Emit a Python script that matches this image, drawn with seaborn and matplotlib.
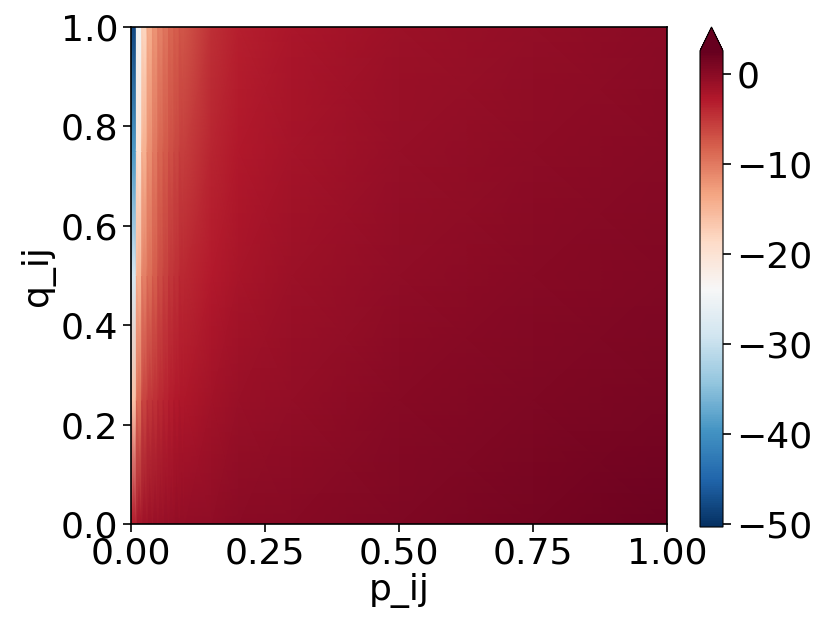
import numpy as np
import matplotlib
matplotlib.use("Agg")
import matplotlib.pyplot as plt
import seaborn as sns

# q levels (rows of the table)
q_levels = [0.0, 0.25, 0.5, 0.75, 1.0]

# narrow columns near p=0, each 0.01 wide (values for q = 0, .25, .5, .75, 1)
block_edges = [0.00, 0.01, 0.02, 0.03, 0.04, 0.05, 0.06, 0.07, 0.08, 0.09, 0.10]
block_vals = [
    [-3.0, -16.0, -28.5, -39.0, -48.0],
    [-1.8, -9.0, -14.5, -20.0, -25.0],
    [-1.4, -6.0, -10.5, -14.5, -18.0],
    [-1.2, -5.0, -9.0, -11.5, -14.0],
    [-1.1, -4.5, -7.8, -10.0, -12.0],
    [-1.0, -3.9, -6.5, -8.5, -10.5],
    [-0.9, -3.4, -5.8, -7.7, -9.5],
    [-0.8, -3.0, -5.0, -6.8, -8.5],
    [-0.7, -2.7, -4.5, -6.2, -7.8],
    [-0.6, -2.4, -4.0, -5.6, -7.2],
]

# smoother part of the field
p_smooth = [0.15, 0.2, 0.3, 0.5, 0.75, 1.0]
smooth_vals = [
    [-0.3, -1.6, -2.8, -3.7, -4.5],
    [0.0, -1.1, -2.0, -2.7, -3.3],
    [0.3, -0.6, -1.3, -1.8, -2.2],
    [0.9, 0.2, -0.4, -0.8, -1.2],
    [1.5, 0.8, 0.2, -0.2, -0.5],
    [2.0, 1.2, 0.6, 0.2, 0.0],
]

vmin, vmax = -50.3, 2.6

# build node table for gouraud shading (block columns get two nodes each)
x_nodes = []
cols = []
for i, v in enumerate(block_vals):
    x_nodes += [block_edges[i], block_edges[i + 1]]
    cols += [v, v]
x_nodes += p_smooth
cols += smooth_vals

X, Y = np.meshgrid(np.array(x_nodes), np.array(q_levels))
Z = np.array(cols).T

sns.set_style("ticks")
plt.rcParams["font.family"] = ["DejaVu Sans"]
plt.rcParams["text.color"] = "black"
plt.rcParams["axes.labelcolor"] = "black"
plt.rcParams["xtick.color"] = "black"
plt.rcParams["ytick.color"] = "black"
cmap = sns.color_palette("RdBu_r", as_cmap=True)

fig = plt.figure(figsize=(8.3, 6.34), dpi=100)
ax = fig.add_axes([131 / 830, 1 - 524 / 634, 536 / 830, 497 / 634])
mesh = ax.pcolormesh(X, Y, Z, shading="gouraud", cmap=cmap, vmin=vmin, vmax=vmax)
ax.set_xlim(0, 1)
ax.set_ylim(0, 1)
ax.set_xticks([0, 0.25, 0.5, 0.75, 1.0])
ax.set_yticks([0, 0.2, 0.4, 0.6, 0.8, 1.0])
ax.set_xticklabels(["0.00", "0.25", "0.50", "0.75", "1.00"])
ax.set_yticklabels(["0.0", "0.2", "0.4", "0.6", "0.8", "1.0"])
ax.tick_params(labelsize=26, length=6, width=1.2, color="black", pad=3)
ax.set_xlabel("p_ij", fontsize=26, labelpad=2)
ax.set_ylabel("q_ij", fontsize=26, labelpad=4)
for s in ax.spines.values():
    s.set_color("black")
    s.set_linewidth(1.2)

cax = fig.add_axes([700 / 830, 1 - 527 / 634, 23 / 830, 500 / 634])
cb = fig.colorbar(mesh, cax=cax, extend="max")
cb.set_ticks([0, -10, -20, -30, -40, -50])
cb.ax.tick_params(labelsize=26, length=6, width=1.2, color="black")
cb.outline.set_edgecolor("black")

fig.savefig("out.png", dpi=100)
